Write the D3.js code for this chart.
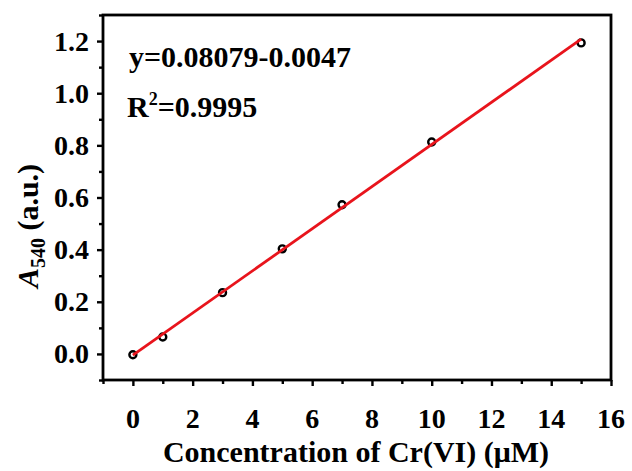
<!DOCTYPE html>
<html><head><meta charset="utf-8">
<script src="https://cdn.jsdelivr.net/npm/d3@7"></script>
<style>body{margin:0;background:#fff}svg{display:block}</style>
</head><body>
<svg id="c" width="632" height="471"></svg>
<script>
const concentration = [0, 1, 3, 5, 7, 10, 15];
const absorbance = [-0.003, 0.065, 0.235, 0.403, 0.572, 0.813, 1.193];
const fitSlope = 0.08079, fitIntercept = -0.0047;
const fitRange = [0, 15];
const xTicks = [0, 2, 4, 6, 8, 10, 12, 14, 16];
const yTicks = [0.0, 0.2, 0.4, 0.6, 0.8, 1.0, 1.2];
const equationText = "y=0.08079-0.0047";
const r2Text = "=0.9995";

const svg = d3.select("#c");
const L = 103, R = 611, T = 15, B = 380;
const x = d3.scaleLinear().domain([-1, 16]).range([L, R]);
const y = d3.scaleLinear().domain([-0.1, 1.3]).range([B, T]);
const font = "'Liberation Serif','Times New Roman',serif";

const xAxis = d3.axisBottom(x).tickValues(xTicks).tickSize(6).tickFormat("");
const xMinor = d3.axisBottom(x).tickValues(d3.range(-1, 16, 1).filter(v => v % 2 !== 0)).tickSize(4).tickFormat("");
const yAxis = d3.axisLeft(y).tickValues(yTicks).tickSize(6).tickFormat("");
const yMinor = d3.axisLeft(y).tickValues(d3.range(-0.1, 1.31, 0.2).map(v => +v.toFixed(1))).tickSize(4).tickFormat("");

function style(g){
  g.select(".domain").remove();
  g.selectAll("line").attr("stroke","#000").attr("stroke-width",2.4);
}
svg.append("g").attr("transform",`translate(0,${B})`).call(xMinor).call(style);
svg.append("g").attr("transform",`translate(${L},0)`).call(yMinor).call(style);
svg.append("g").attr("transform",`translate(0,${B})`).call(xAxis).call(style);
svg.append("g").attr("transform",`translate(${L},0)`).call(yAxis).call(style);

// tick labels
svg.append("g").selectAll("text").data(xTicks).join("text")
  .attr("x", d => x(d)).attr("y", 428).attr("text-anchor","middle")
  .attr("font-family",font).attr("font-weight","bold").attr("font-size",28).attr("fill","#000")
  .text(d3.format("d"));
svg.append("g").selectAll("text").data(yTicks).join("text")
  .attr("x", 89).attr("y", d => y(d)).attr("dy","0.34em").attr("text-anchor","end")
  .attr("font-family",font).attr("font-weight","bold").attr("font-size",28).attr("fill","#000")
  .text(d3.format(".1f"));

svg.append("rect").attr("x",L).attr("y",T).attr("width",R-L).attr("height",B-T)
  .attr("fill","none").attr("stroke","#000").attr("stroke-width",2.8);

svg.append("g").selectAll("circle").data(concentration).join("circle")
  .attr("cx",(d)=>x(d)).attr("cy",(d,i)=>y(absorbance[i])).attr("r",3.5)
  .attr("fill","#fff").attr("stroke","#000").attr("stroke-width",2.4);

svg.append("line")
  .attr("x1",x(fitRange[0])).attr("y1",y(fitSlope*fitRange[0]+fitIntercept))
  .attr("x2",x(fitRange[1])).attr("y2",y(fitSlope*fitRange[1]+fitIntercept))
  .attr("stroke","#e8141c").attr("stroke-width",2.8);

svg.append("text").attr("x",129).attr("y",67).attr("font-family",font).attr("font-weight","bold")
  .attr("font-size",30).text(equationText);
const r2 = svg.append("text").attr("x",127).attr("y",117).attr("font-family",font).attr("font-weight","bold").attr("font-size",30);
r2.append("tspan").text("R");
r2.append("tspan").attr("font-size",18).attr("dy",-12).text("2");
r2.append("tspan").attr("dy",12).text(r2Text);

svg.append("text").attr("x",356).attr("y",462).attr("text-anchor","middle")
  .attr("font-family",font).attr("font-weight","bold").attr("font-size",30).text("Concentration of Cr(VI) (μM)");

const yt = svg.append("text").attr("transform","translate(38,226) rotate(-90)").attr("text-anchor","middle")
  .attr("font-family",font).attr("font-weight","bold").attr("font-size",30);
yt.append("tspan").attr("font-style","italic").text("A");
yt.append("tspan").attr("font-size",20).attr("dy",7).text("540");
yt.append("tspan").attr("dy",-7).text(" (a.u.)");
</script>
</body></html>
